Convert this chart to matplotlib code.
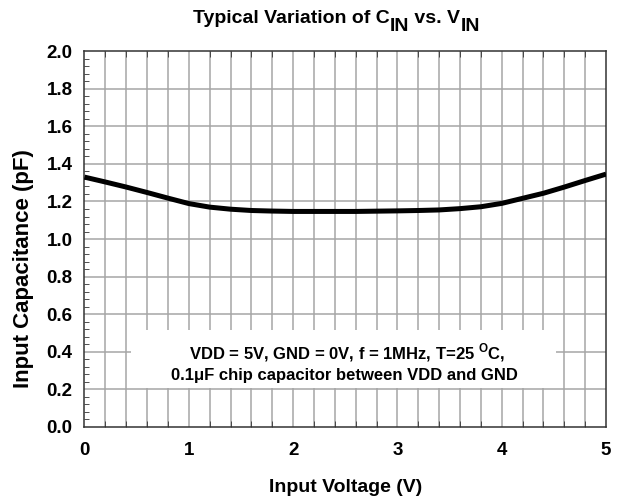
import matplotlib.pyplot as plt
from matplotlib.patches import Rectangle
from matplotlib.ticker import MultipleLocator

plt.rcParams['font.family'] = ['Liberation Sans', 'DejaVu Sans']
plt.rcParams['font.weight'] = 'bold'
plt.rcParams['mathtext.fontset'] = 'custom'
plt.rcParams['mathtext.rm'] = 'Liberation Sans:bold'
plt.rcParams['mathtext.bf'] = 'Liberation Sans:bold'

# Data
vin = [0.0, 0.2, 0.4, 0.6, 0.8, 1.0, 1.2, 1.4, 1.6, 1.8, 2.0, 2.2, 2.6,
       3.0, 3.2, 3.4, 3.6, 3.8, 4.0, 4.2, 4.4, 4.6, 4.8, 5.0]
cin = [1.330, 1.304, 1.277, 1.248, 1.218, 1.189, 1.170, 1.159, 1.152, 1.149,
       1.147, 1.147, 1.147, 1.150, 1.152, 1.155, 1.162, 1.172, 1.190, 1.217,
       1.244, 1.277, 1.312, 1.346]
x_ticks = [0, 1, 2, 3, 4, 5]
y_ticks = [0.0, 0.2, 0.4, 0.6, 0.8, 1.0, 1.2, 1.4, 1.6, 1.8, 2.0]

fig = plt.figure(figsize=(6.21, 4.99), dpi=100)
ax = fig.add_axes([0.136, 0.145, 0.840, 0.752])

ax.plot(vin, cin, color='black', linewidth=3.6, zorder=3, solid_capstyle='butt')

ax.set_xlim(0, 5)
ax.set_ylim(0, 2.0)
ax.set_xticks(x_ticks)
ax.set_yticks(y_ticks)
ax.set_yticklabels(['%.1f' % v for v in y_ticks])
ax.xaxis.set_minor_locator(MultipleLocator(0.2))
ax.yaxis.set_minor_locator(MultipleLocator(0.04))

# grid: every 0.2 in x and in y
for xv in [i * 0.2 for i in range(1, 25)]:
    ax.axvline(xv, color='#a6a6a6', linewidth=1.1, zorder=0.5)
for yv in y_ticks[1:-1]:
    ax.axhline(yv, color='#a6a6a6', linewidth=1.1, zorder=0.5)

ax.tick_params(axis='both', which='both', direction='in', labelsize=13.5,
               color='#333333')
ax.tick_params(axis='x', which='both', top=True, bottom=True, length=4.5, pad=11)
ax.tick_params(axis='x', which='major', length=0)
ax.tick_params(axis='y', which='major', length=0, pad=8.5)
ax.tick_params(axis='y', which='minor', length=3.5)
for s in ax.spines.values():
    s.set_color('#333333')
    s.set_linewidth(1.1)

# white box with test conditions
ax.add_patch(Rectangle((0.45, 0.205), 4.07, 0.31, facecolor='white',
                       edgecolor='none', zorder=1))
ax.text(2.52, 0.396, 'VDD = 5V, GND = 0V, f = 1MHz, T=25 $^{\\rm O}$C,',
        ha='center', va='center', fontsize=12, fontweight='bold', zorder=2)
ax.text(2.49, 0.273, '0.1\u03bcF chip capacitor between VDD and GND',
        ha='center', va='center', fontsize=12, fontweight='bold', zorder=2)

# title built from pieces so the subscripts stay full size
tsize = 14
base_y = 0.9545
sub_y = 0.9385
t1 = fig.text(0.311, base_y, 'Typical Variation of C', ha='left',
              va='baseline', fontsize=tsize, fontweight='bold')
t2 = plt.annotate('IN', xy=(1, sub_y), xycoords=(t1, 'figure fraction'),
                  ha='left', va='baseline', fontsize=tsize, fontweight='bold',
                  annotation_clip=False)
t3 = plt.annotate(' vs. V', xy=(1, base_y), xycoords=(t2, 'figure fraction'),
                  ha='left', va='baseline', fontsize=tsize, fontweight='bold',
                  annotation_clip=False)
t4 = plt.annotate('IN', xy=(1, sub_y), xycoords=(t3, 'figure fraction'),
                  ha='left', va='baseline', fontsize=tsize, fontweight='bold',
                  annotation_clip=False)

fig.text(0.556, 0.024, 'Input Voltage (V)', ha='center', va='center',
         fontsize=14, fontweight='bold')
fig.text(0.038, 0.462, 'Input Capacitance (pF)', ha='center', va='center',
         rotation=90, fontsize=16, fontweight='bold')

plt.savefig('out.png', dpi=100)
